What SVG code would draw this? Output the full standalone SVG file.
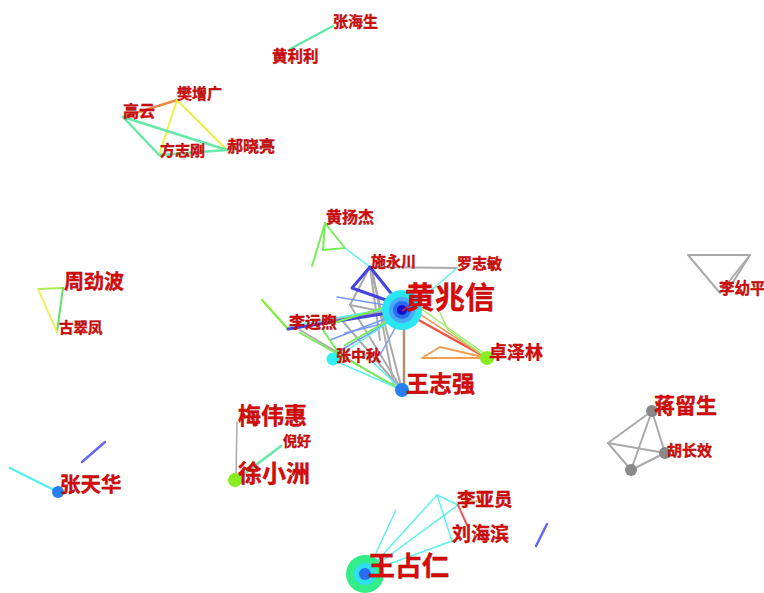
<svg xmlns="http://www.w3.org/2000/svg" width="764" height="593" viewBox="0 0 764 593">
<style>
.t{font-family:"Noto Sans CJK SC","Noto Sans",sans-serif;font-weight:bold;fill:#dc0a0a;stroke:#9a0000;stroke-width:0.35}
.e{fill:none;stroke-linecap:round;stroke-linejoin:round}
.g{stroke:#66e8a8;stroke-width:2.5}
.y{stroke:#eeee44;stroke-width:2}
.o{stroke:#f08a40;stroke-width:2.5}
.gr{stroke:#aaaaaa;stroke-width:2}
.c{stroke:#5ef0f0;stroke-width:1.5}
.b{stroke:#4444dd;stroke-width:3}
.lb{stroke:#7799ff;stroke-width:1.5}
.gn{stroke:#77ee55;stroke-width:2}
</style>
<rect width="764" height="593" fill="#ffffff"/>
<g id="edges">
  <line class="e g" x1="290" y1="49" x2="333" y2="26"/>
  <line class="e o" x1="123" y1="117" x2="177" y2="100"/>
  <line class="e y" x1="177" y1="100" x2="159" y2="155"/>
  <line class="e y" x1="177" y1="100" x2="227" y2="150"/>
  <line class="e g" x1="123" y1="117" x2="159" y2="155"/>
  <line class="e g" x1="123" y1="117" x2="227" y2="150"/>
  <line class="e g" x1="159" y1="155" x2="227" y2="150"/>
  <line class="e" stroke="#aaee55" stroke-width="2" x1="38" y1="289" x2="63" y2="288"/>
  <line class="e" stroke="#66dd66" stroke-width="2" x1="63" y1="288" x2="57" y2="332"/>
  <line class="e" stroke="#eeee66" stroke-width="2" x1="38" y1="289" x2="57" y2="332"/>
  <line class="e" stroke="#55eeee" stroke-width="2.5" x1="10" y1="468" x2="58" y2="492"/>
  <line class="e" stroke="#6666ee" stroke-width="2.5" x1="82" y1="462" x2="105" y2="442"/>
  <line class="e" stroke="#aaaaaa" stroke-width="1.5" x1="237" y1="422" x2="236" y2="476"/>
  <line class="e g" stroke-width="2" x1="236" y1="480" x2="281" y2="446"/>
  <path class="e gn" stroke-width="2.5" d="M325,223 L312,266"/>
  <path class="e gn" stroke-width="2.5" d="M325,223 L323,250 L345,248 Z"/>
  <line class="e c" x1="345" y1="248" x2="370" y2="267"/>
  <line class="e" stroke="#88ee44" stroke-width="2.5" x1="262" y1="300" x2="288" y2="329"/>
  <line class="e gr" x1="370" y1="267" x2="457" y2="268"/>
  <line class="e c" x1="457" y1="268" x2="420" y2="300"/>
  <line class="e gr" x1="370" y1="267" x2="402" y2="390"/>
  <line class="e gr" x1="372" y1="268" x2="394" y2="386"/>
  <line class="e gr" x1="370" y1="267" x2="350" y2="305"/>
  <line class="e gr" x1="350" y1="305" x2="402" y2="390"/>
  <line class="e gr" x1="350" y1="305" x2="395" y2="314"/>
  <line class="e gr" x1="318" y1="322" x2="392" y2="310"/>
  <line class="e gr" x1="340" y1="318" x2="400" y2="388"/>
  <line class="e gr" x1="300" y1="330" x2="400" y2="390"/>
  <line class="e gr" x1="370" y1="267" x2="380" y2="340"/>
  <line class="e b" x1="370" y1="267" x2="398" y2="302"/>
  <path class="e b" stroke-width="2.5" d="M370,267 L352,288 L386,300"/>
  <line class="e b" x1="288" y1="329" x2="388" y2="313"/>
  <line class="e lb" x1="337" y1="297" x2="385" y2="305"/>
  <line class="e lb" x1="330" y1="340" x2="390" y2="317"/>
  <line class="e lb" x1="338" y1="352" x2="392" y2="320"/>
  <line class="e lb" x1="345" y1="333" x2="390" y2="322"/>
  <line class="e lb" x1="380" y1="355" x2="397" y2="325"/>
  <line class="e c" x1="290" y1="326" x2="386" y2="309"/>
  <line class="e c" x1="333" y1="360" x2="402" y2="390"/>
  <line class="e c" x1="333" y1="360" x2="395" y2="318"/>
  <line class="e c" x1="360" y1="350" x2="400" y2="388"/>
  <line class="e gn" x1="333" y1="323" x2="386" y2="307"/>
  <line class="e gn" x1="323" y1="330" x2="340" y2="355"/>
  <line class="e gn" x1="345" y1="345" x2="393" y2="318"/>
  <line class="e gn" stroke-width="1.5" x1="300" y1="333" x2="395" y2="386"/>
  <line class="e" stroke="#b09070" stroke-width="2.5" x1="404" y1="322" x2="404" y2="388"/>
  <line class="e" stroke="#ee5544" stroke-width="2.5" x1="415" y1="318" x2="487" y2="358"/>
  <line class="e" stroke="#f0a060" stroke-width="1.5" x1="418" y1="313" x2="484" y2="356"/>
  <path class="e" stroke="#99ee66" stroke-width="1.5" d="M440,313 L448,330 L483,355"/>
  <line class="e" stroke="#99ee66" stroke-width="1.5" x1="420" y1="308" x2="485" y2="354"/>
  <path class="e" stroke="#f0a050" stroke-width="2" d="M487,358 L422,358 L440,347 Z"/>
  <path class="e gr" d="M688,255 L750,255 L720,293 Z"/>
  <line class="e gr" stroke-width="1.5" x1="750" y1="255" x2="728" y2="290"/>
  <line class="e gr" x1="652" y1="411" x2="608" y2="443"/>
  <line class="e gr" x1="652" y1="411" x2="631" y2="470"/>
  <line class="e gr" x1="652" y1="411" x2="665" y2="453"/>
  <line class="e gr" x1="608" y1="443" x2="665" y2="453"/>
  <line class="e gr" x1="608" y1="443" x2="631" y2="470"/>
  <line class="e gr" x1="631" y1="470" x2="665" y2="453"/>
  <line class="e c" x1="367" y1="572" x2="396" y2="510"/>
  <line class="e c" x1="367" y1="572" x2="437" y2="495"/>
  <line class="e c" x1="367" y1="572" x2="458" y2="505"/>
  <line class="e c" x1="367" y1="572" x2="452" y2="541"/>
  <line class="e c" x1="437" y1="495" x2="452" y2="541"/>
  <line class="e c" x1="437" y1="495" x2="458" y2="505"/>
  <line class="e" stroke="#f0b070" stroke-width="2" x1="462" y1="502" x2="482" y2="501"/>
  <line class="e" stroke="#ee5555" stroke-width="2" x1="458" y1="505" x2="467" y2="525"/>
  <line class="e" stroke="#6666ee" stroke-width="2.5" x1="536" y1="546" x2="547" y2="524"/>
</g>
<g id="n-huangzhaoxin">
  <circle cx="402" cy="310" r="20" fill="#2ae6f2"/>
  <circle cx="402" cy="310" r="13" fill="#4aa8f8"/>
  <circle cx="402" cy="310" r="9" fill="#2a6cf0"/>
  <circle cx="402" cy="310" r="5" fill="#1010d0"/>
  <line x1="402" y1="311" x2="414" y2="302" stroke="#ee2244" stroke-width="1.5"/>
  <text class="t" x="405" y="308" font-size="30">黄兆信</text>
</g>
<g id="n-wangzhiqiang"><circle cx="402" cy="390" r="7" fill="#2a7ff0"/><text class="t" x="406" y="392" font-size="23">王志强</text></g>
<g id="n-zhangzhongqiu"><circle cx="333" cy="359" r="6.5" fill="#33eef2"/><text class="t" x="336" y="361" font-size="15">张中秋</text></g>
<g id="n-zhuozelin"><circle cx="487" cy="358" r="7" fill="#88ee22"/><text class="t" x="489" y="359" font-size="18">卓泽林</text></g>
<g id="n-shiyongchuan"><text class="t" x="371" y="267" font-size="15">施永川</text></g>
<g id="n-luozhimin"><text class="t" x="457" y="269" font-size="15">罗志敏</text></g>
<g id="n-huangyangjie"><text class="t" x="326" y="223" font-size="16">黄扬杰</text></g>
<g id="n-liyuanxu"><text class="t" x="289" y="328" font-size="16">李远煦</text></g>
<g id="n-zhanghaisheng"><text class="t" x="333" y="27" font-size="15">张海生</text></g>
<g id="n-huanglili"><text class="t" x="272" y="62" font-size="15.5">黄利利</text></g>
<g id="n-fanzengguang"><text class="t" x="177" y="99" font-size="15">樊增广</text></g>
<g id="n-gaoyun"><text class="t" x="123" y="117" font-size="16">高云</text></g>
<g id="n-fangzhigang"><text class="t" x="160" y="156" font-size="15">方志刚</text></g>
<g id="n-haoxiaoliang"><text class="t" x="227" y="152" font-size="16">郝晓亮</text></g>
<g id="n-zhoujinbo"><text class="t" x="64" y="289" font-size="20">周劲波</text></g>
<g id="n-gucuifeng"><text class="t" x="59" y="333" font-size="14.5">古翠凤</text></g>
<g id="n-zhangtianhua"><circle cx="58" cy="492" r="6" fill="#2a7ff0"/><text class="t" x="60" y="492" font-size="20.5">张天华</text></g>
<g id="n-meiweihui"><text class="t" x="238" y="424" font-size="23">梅伟惠</text></g>
<g id="n-nihao"><text class="t" x="283" y="446" font-size="14">倪好</text></g>
<g id="n-xuxiaozhou"><circle cx="235" cy="480" r="7" fill="#88ee22"/><text class="t" x="238" y="482" font-size="24">徐小洲</text></g>
<g id="n-liyayuan"><text class="t" x="457" y="506" font-size="18.5">李亚员</text></g>
<g id="n-liuhaibin"><text class="t" x="452" y="541" font-size="19">刘海滨</text></g>
<g id="n-wangzhanren">
  <circle cx="365" cy="574" r="19" fill="#33ee88"/>
  <circle cx="365" cy="574" r="11" fill="#33ddf0"/>
  <circle cx="365" cy="574" r="6" fill="#2a6cf0"/>
  <text class="t" x="368" y="576" font-size="27">王占仁</text>
</g>
<g id="n-liyouping"><text class="t" x="719" y="294" font-size="15.5">李幼平</text></g>
<g id="n-jiangliusheng"><circle cx="652" cy="411" r="6" fill="#8a8a8a"/><text class="t" x="654" y="413" font-size="21">蒋留生</text></g>
<g id="n-huchangxiao"><circle cx="665" cy="453" r="6" fill="#8a8a8a"/><text class="t" x="667" y="456" font-size="15">胡长效</text></g>
<g id="n-anon1"><circle cx="631" cy="470" r="6" fill="#8a8a8a"/></g>
</svg>
